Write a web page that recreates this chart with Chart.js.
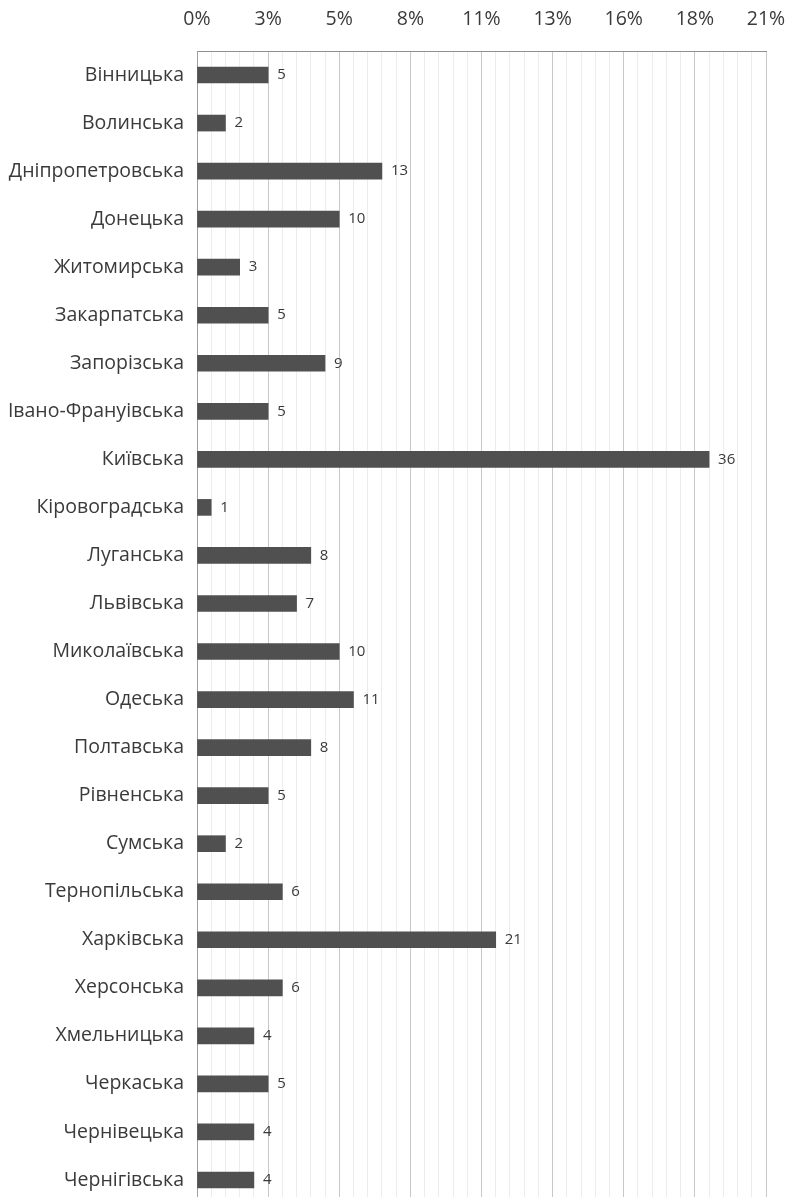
<!DOCTYPE html>
<html>
<head>
  <meta charset="UTF-8">
  <title>Області</title>
  <script src="https://cdn.jsdelivr.net/npm/chart.js"></script>
  <style>
    body {
      margin: 0;
      background: white;
      overflow: hidden;
    }
  </style>
</head>
<body>
  <canvas id="regionChart" width="789" height="1204"></canvas>

  <script>
    const regions = [
      'Вінницька', 'Волинська', 'Дніпропетровська', 'Донецька', 'Житомирська',
      'Закарпатська', 'Запорізська', 'Івано-Франуівська', 'Київська', 'Кіровоградська',
      'Луганська', 'Львівська', 'Миколаївська', 'Одеська', 'Полтавська',
      'Рівненська', 'Сумська', 'Тернопільська', 'Харківська', 'Херсонська',
      'Хмельницька', 'Черкаська', 'Чернівецька', 'Чернігівська'
    ];
    const counts = [5, 2, 13, 10, 3, 5, 9, 5, 36, 1, 8, 7, 10, 11, 8, 5, 2, 6, 21, 6, 4, 5, 4, 4];
    const tickLabels = ['0%', '3%', '5%', '8%', '11%', '13%', '16%', '18%', '21%'];

    const valueLabels = {
      id: 'valueLabels',
      afterDatasetsDraw(chart) {
        const ctx = chart.ctx;
        const meta = chart.getDatasetMeta(0);
        ctx.save();
        ctx.font = '15px "Open Sans"';
        ctx.fillStyle = '#3a3a3a';
        ctx.textAlign = 'left';
        ctx.textBaseline = 'middle';
        meta.data.forEach((bar, i) => {
          ctx.fillText(counts[i], bar.x + 9, bar.y);
        });
        ctx.restore();
      }
    };

    const ctx = document.getElementById('regionChart').getContext('2d');
    new Chart(ctx, {
      type: 'bar',
      data: {
        labels: regions,
        datasets: [{
          data: counts,
          backgroundColor: '#505050',
          barThickness: 16
        }]
      },
      options: {
        indexAxis: 'y',
        responsive: false,
        animation: false,
        devicePixelRatio: 1,
        layout: { padding: { top: 0, right: 23, bottom: 0, left: 0 } },
        plugins: {
          legend: { display: false },
          tooltip: { enabled: false }
        },
        scales: {
          x: {
            position: 'top',
            min: 0,
            max: 40,
            afterFit: s => {
              s.height = 51;
              s.paddingLeft = 0;
              s.paddingRight = 0;
            },
            ticks: {
              stepSize: 1,
              autoSkip: false,
              maxRotation: 0,
              padding: 20,
              color: '#3a3a3a',
              font: { family: '"Open Sans"', size: 19.5 },
              callback: v => (v % 5 === 0 ? tickLabels[v / 5] : '')
            },
            grid: {
              drawTicks: false,
              color: c => (c.tick && c.tick.value % 5 === 0 ? '#c8c8c8' : '#ececec'),
              lineWidth: 1
            },
            border: { display: true, color: '#909090' }
          },
          y: {
            afterFit: s => {
              s.width = 197;
              s.paddingTop = 0;
              s.paddingBottom = 0;
            },
            ticks: {
              padding: 13,
              color: '#3a3a3a',
              font: { family: '"Open Sans"', size: 19.5 }
            },
            grid: { display: false, drawTicks: false },
            border: { display: true, color: '#a0a0a0' }
          }
        }
      },
      plugins: [valueLabels]
    });
  </script>
</body>
</html>
